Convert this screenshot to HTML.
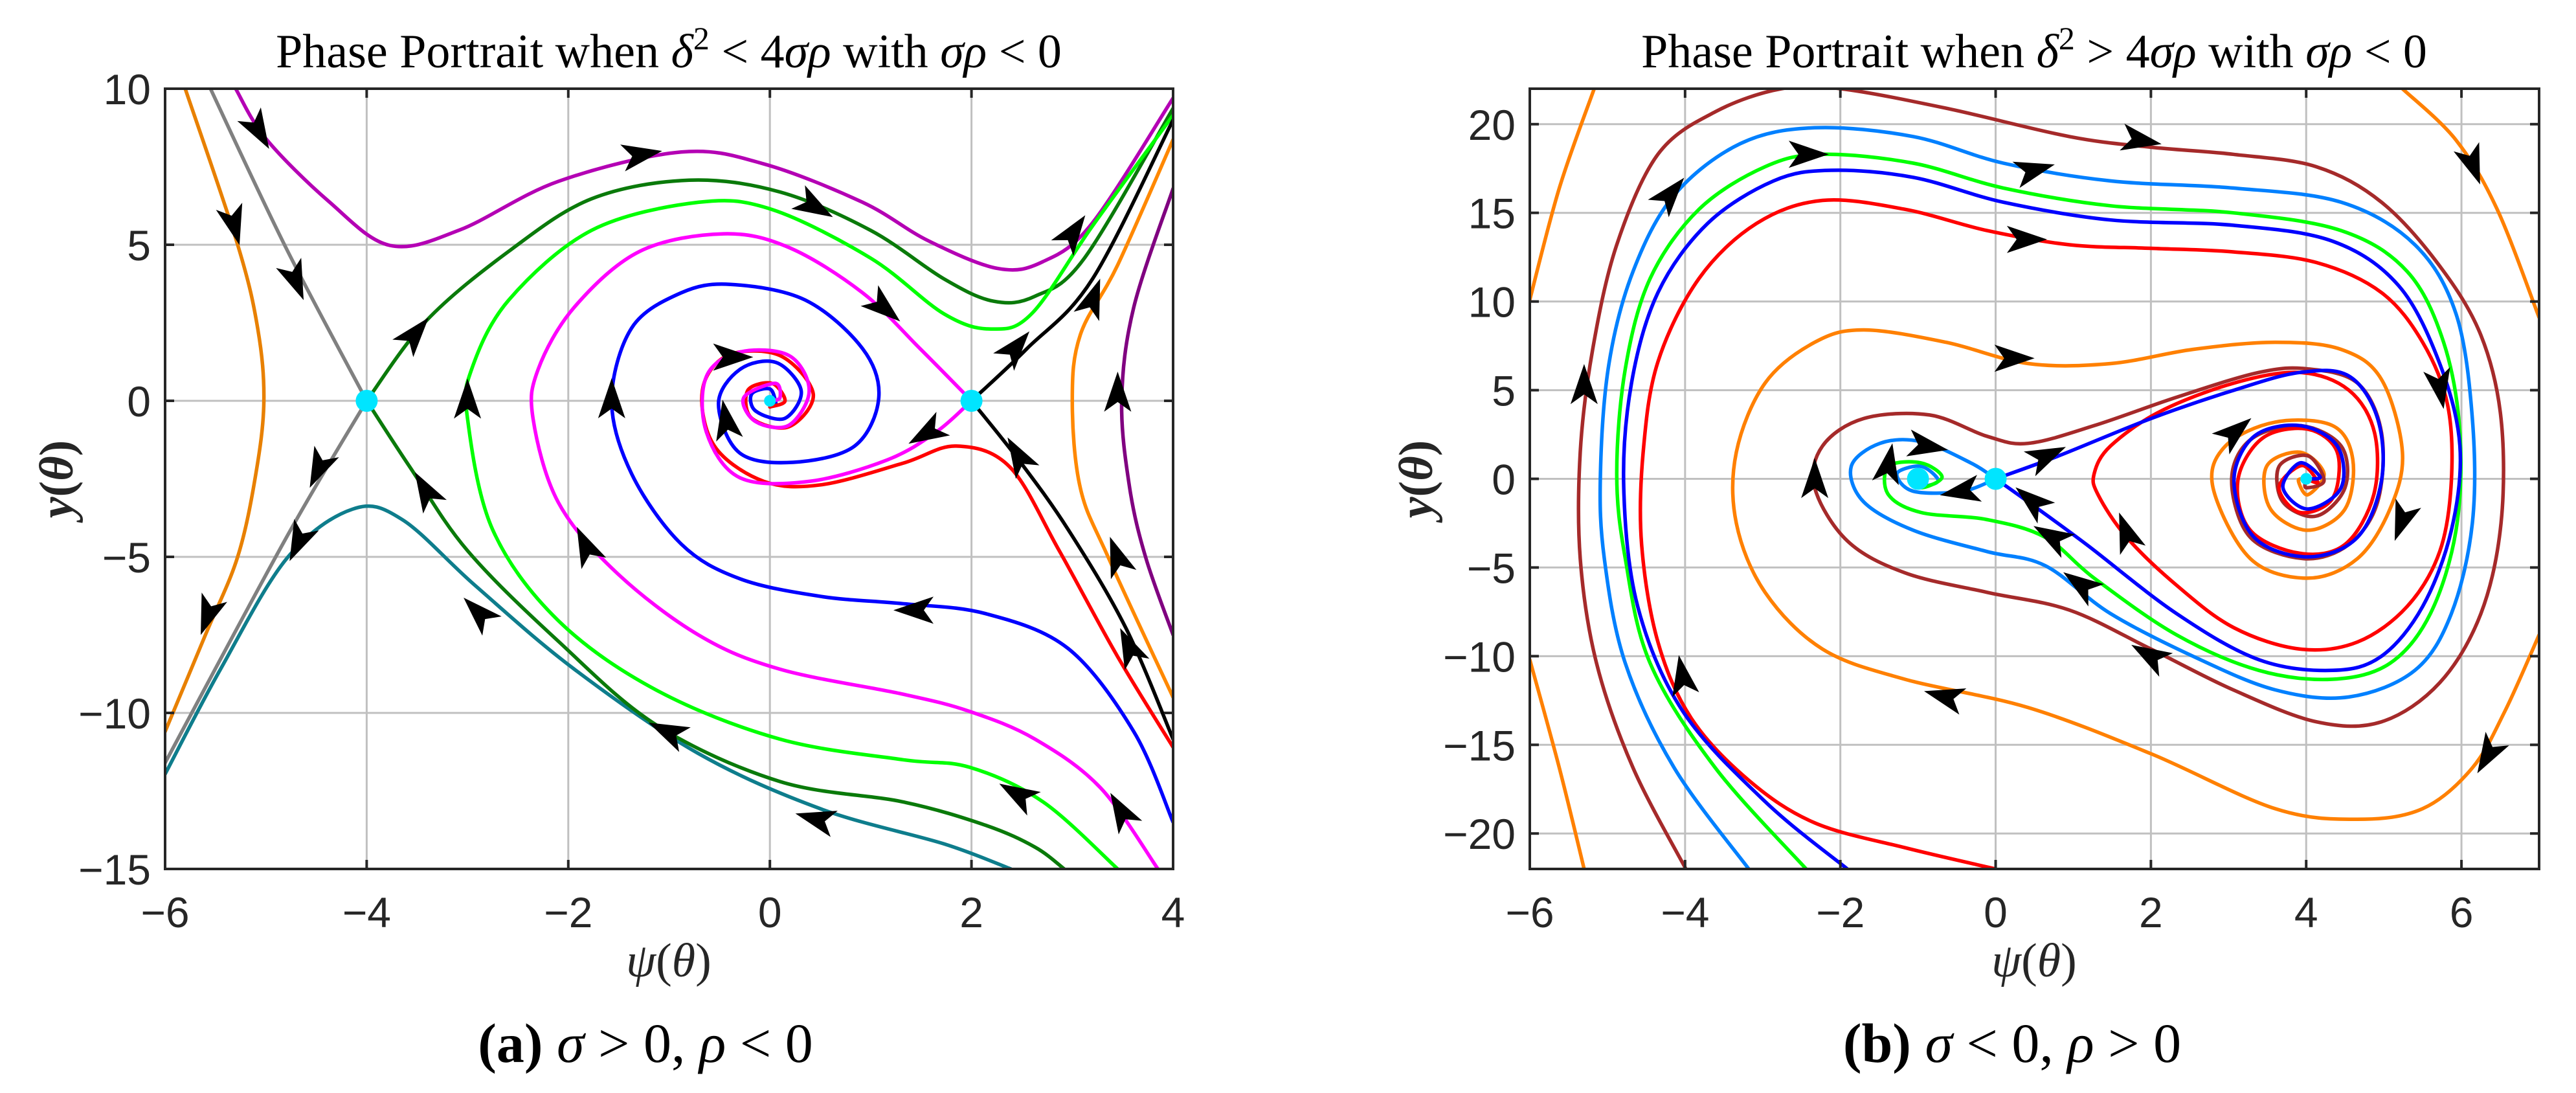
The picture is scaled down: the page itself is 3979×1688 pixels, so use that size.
<!DOCTYPE html>
<html><head><meta charset="utf-8">
<style>
html,body{margin:0;padding:0;background:#fff;}
svg{display:block;}
.tick{font-family:"Liberation Sans",sans-serif;font-size:66px;fill:#262626;}
.ttl{font-family:"Liberation Serif",serif;font-size:74px;fill:#000;}
.lbl{font-family:"Liberation Serif",serif;font-size:74px;fill:#262626;}
.cap{font-family:"Liberation Serif",serif;font-size:86px;fill:#000;}
</style></head>
<body>
<svg id="fig" width="3979" height="1688" viewBox="0 0 3979 1688" xmlns="http://www.w3.org/2000/svg">
<defs>
<clipPath id="clipA"><rect x="255" y="137" width="1557" height="1205"/></clipPath>
<clipPath id="clipB"><rect x="2363" y="137" width="1559" height="1205"/></clipPath>
</defs>
<g id="plotA"></g>
<g id="plotB"></g>
<text class="ttl" x="1033" y="104" text-anchor="middle">Phase Portrait when <tspan font-style="italic">δ</tspan><tspan dy="-28" font-size="50">2</tspan><tspan dy="28"> &lt; 4</tspan><tspan font-style="italic">σρ</tspan> with <tspan font-style="italic">σρ</tspan> &lt; 0</text>
<text class="ttl" x="3142" y="104" text-anchor="middle">Phase Portrait when <tspan font-style="italic">δ</tspan><tspan dy="-28" font-size="50">2</tspan><tspan dy="28"> &gt; 4</tspan><tspan font-style="italic">σρ</tspan> with <tspan font-style="italic">σρ</tspan> &lt; 0</text>
<text class="lbl" x="1033" y="1508" text-anchor="middle"><tspan font-style="italic">ψ</tspan>(<tspan font-style="italic">θ</tspan>)</text>
<text class="lbl" x="3142" y="1508" text-anchor="middle"><tspan font-style="italic">ψ</tspan>(<tspan font-style="italic">θ</tspan>)</text>
<text class="lbl" transform="translate(112,740) rotate(-90)" text-anchor="middle" font-weight="bold"><tspan font-style="italic">y</tspan>(<tspan font-style="italic">θ</tspan>)</text>
<text class="lbl" transform="translate(2212,740) rotate(-90)" text-anchor="middle" font-weight="bold"><tspan font-style="italic">y</tspan>(<tspan font-style="italic">θ</tspan>)</text>
<text class="cap" x="997" y="1640" text-anchor="middle"><tspan font-weight="bold">(a)</tspan> <tspan font-style="italic">σ</tspan> &gt; 0, <tspan font-style="italic">ρ</tspan> &lt; 0</text>
<text class="cap" x="3108" y="1640" text-anchor="middle"><tspan font-weight="bold">(b)</tspan> <tspan font-style="italic">σ</tspan> &lt; 0, <tspan font-style="italic">ρ</tspan> &gt; 0</text>
</svg>
<script>
// ===== Panel (a) data =====
const aXTicks = [-6,-4,-2,0,2,4];
const aYTicks = [10,5,0,-5,-10,-15];
const aEquilX = [-4,2,0];
const aEquilY = [0,0,0];
const aOrangeL_x = [-5.8,-5.28,-5.08,-5.02,-5.1,-5.28,-5.6,-6];
const aOrangeL_y = [10,5.0,2.3,0,-2.35,-5.0,-7.5,-10.6];
const aGrayUp_x = [-5.55,-4.8,-4];
const aGrayUp_y = [10,4.9,0];
const aGrayDn_x = [-4,-4.8,-6];
const aGrayDn_y = [0,-4.4,-11.6];
const aPurple_x = [-5.3,-5.0,-4.38,-3.77,-3.08,-2.1,-0.88,-0.06,0.92,1.57,2.26,2.71,3.2,4];
const aPurple_y = [10,8.4,6.4,4.98,5.47,7.03,7.97,7.59,6.36,5.13,4.24,4.46,5.7,9.7];
const aDGreenUp_x = [-4,-3.41,-2.59,-1.77,-0.8,0.1,1.0,1.73,2.22,2.63,3.12,4];
const aDGreenUp_y = [0,2.56,4.79,6.47,7.07,6.69,5.46,3.9,3.19,3.35,4.57,9.37];
const aDGreenDn_x = [-4,-3.57,-3.0,-2.1,-1.12,0.1,1.32,2.14,2.63,2.92];
const aDGreenDn_y = [0,-2.13,-4.8,-7.7,-10.4,-12.2,-12.85,-13.6,-14.3,-15];
const aGreen_x = [4,3.2,2.6,2.2,1.73,1.0,0.02,-0.71,-1.77,-2.59,-2.96,-3.0,-2.75,-2.1,-1.12,0.1,1.32,1.98,2.71,3.45];
const aGreen_y = [9.15,5.6,2.8,2.3,2.78,4.57,6.13,6.36,5.46,3.23,1.0,-0.56,-4.13,-7.04,-9.28,-10.84,-11.5,-11.74,-12.85,-15];
const aMagenta_x = [2,1.49,0.92,0.19,-0.46,-1.29,-1.94,-2.3,-2.35,-2.1,-1.53,-0.71,0.1,1.32,1.98,2.63,3.28,3.85];
const aMagenta_y = [0,1.67,3.46,4.91,5.35,4.79,3.0,1.0,-0.56,-3.25,-5.48,-7.5,-8.6,-9.4,-9.95,-10.84,-12.4,-15];
const aMagSpiral_x = [2,1.65,1.16,0.39,-0.3,-0.63,-0.63,-0.3,0.19,0.39,0.19,-0.14,-0.26,0.05,0.1,0];
const aMagSpiral_y = [0,-1.0,-1.9,-2.58,-2.46,-1.0,0.78,1.56,1.45,0.33,-0.78,-0.67,0.1,0.56,0.1,0];
const aRed_x = [4,3.45,2.87,2.38,1.85,1.32,0.51,-0.06,-0.55,-0.67,-0.42,0.1,0.43,0.19,-0.18,-0.22,0.02,0.15,0];
const aRed_y = [-11.1,-8.2,-4.8,-2.12,-1.45,-2.0,-2.69,-2.58,-1.45,0.33,1.45,1.45,0.22,-0.83,-0.56,0.33,0.56,0,-0.2];
const aBlue_x = [4,3.61,2.96,2.14,1.32,0.51,-0.3,-0.88,-1.37,-1.57,-1.37,-0.88,-0.39,0.35,0.92,1.08,0.84,0.23,-0.3,-0.51,-0.3,0.06,0.31,0.15,-0.14,-0.18,0,0.06];
const aBlue_y = [-13.5,-10.6,-7.94,-6.82,-6.5,-6.27,-5.7,-4.59,-2.35,0,2.34,3.46,3.73,3.23,1.67,0.1,-1.45,-1.97,-1.67,-0.1,1.0,1.23,0.33,-0.56,-0.33,0.22,0.38,-0.07];
const aBlackUp_x = [2,2.55,3.2,4];
const aBlackUp_y = [0,1.67,3.9,9.0];
const aBlackDn_x = [2,2.47,2.96,3.53,4];
const aBlackDn_y = [0,-1.9,-4.13,-7.27,-10.84];
const aOrangeR_x = [4,3.45,3.08,3.0,3.08,3.36,4];
const aOrangeR_y = [8.37,4.35,2.12,0,-2.8,-5.04,-9.5];
const aPurpleR_x = [4,3.61,3.49,3.57,3.73,4];
const aPurpleR_y = [6.8,3.0,0,-2.8,-5.04,-7.5];
const aTeal_x = [-6,-5.45,-4.79,-4.14,-3.65,-2.92,-1.94,-0.71,0.51,1.73,2.39];
const aTeal_y = [-11.96,-8.6,-5.04,-3.47,-3.8,-5.93,-8.6,-11.3,-13.08,-14.2,-15];
const aArrowX = [-5.08,-5.32,-4.71,-3.53,-4.47,-3.41,-4.67,-5.57,-2.88,-1.29,0.43,1.12,-0.39,-3.0,-1.57,-0.43,1.57,2.43,2.47,3.0,3.2,3.45,3.45,3.57,1.45,-1.82,-1.0,2.47,3.49,0.47];
const aArrowY = [8.7,5.69,3.9,2.11,-2.13,-2.91,-4.48,-6.82,-6.82,7.88,6.25,3.01,1.40,-0.01,0,-0.68,-1.01,1.67,-1.8,5.35,3.23,0.21,-5.04,-7.94,-6.71,-4.70,-10.62,-12.63,-13.19,-13.41];
const aArrowAng = [60,75,68,-50,115,-120,115,110,-135,-10,30,40,0,-90,-90,-100,150,-50,-120,-55,-70,-90,-110,-115,180,-115,-155,-150,-120,-165];

// ===== Panel (b) data =====
const bXTicks = [-6,-4,-2,0,2,4,6];
const bYTicks = [20,15,10,5,0,-5,-10,-15,-20];
const bEquilX = [0,-1,4];
const bEquilY = [0,0,0];
const bOrTL_x = [-6,-5.62,-5.17];
const bOrTL_y = [10.1,16.4,22];
const bOrBL_x = [-6,-5.62,-5.3];
const bOrBL_y = [-10.2,-16.3,-22];
const bOrTR_x = [5.24,5.93,6.46,7];
const bOrTR_y = [22,19.1,15.2,9.1];
const bOrange_x = [7,6.56,6.14,5.5,4.66,3.6,2.0,0.42,-1.17,-2.23,-2.97,-3.34,-3.34,-2.97,-2.33,-1.7,-0.64,0.42,1.48,2.54,3.6,4.45,4.97,5.24,5.08,4.66,4.02,3.28,2.8,2.96,3.6,4.34,4.6,4.5,4.02,3.54,3.49,3.92,4.23,4.02,3.9,4];
const bOrange_y = [-8.8,-13.1,-16.3,-18.6,-19.2,-18.6,-15.5,-12.9,-11.3,-9.6,-6.4,-2.5,1.5,5.4,7.7,8.4,7.7,6.5,6.5,7.3,7.7,7.3,5.6,1.5,-1.7,-4.5,-5.6,-4.5,-0.5,1.85,3.2,3.0,1.1,-1.7,-2.9,-1.7,0.7,1.5,0.3,-0.9,-0.1,0];
const bBrown_x = [-3.99,-4.67,-5.14,-5.35,-5.35,-5.19,-4.88,-4.35,-3.61,-2.76,-2.0,-0.64,0.95,2.0,3.06,4.13,4.97,5.72,6.25,6.51,6.51,6.25,5.72,4.97,4.13,3.06,2.0,0.95,-0.11,-1.17,-1.91,-2.33,-2.23,-1.7,-0.85,-0.11,0.42,1.27,2.33,3.39,4.02,4.66,4.97,4.92,4.55,3.97,3.28,3.04,3.28,3.92,4.45,4.5,4.13,3.7,3.65,4.02,4.23,4,4];
const bBrown_y = [-22,-16.3,-10.4,-4.5,1.5,7.3,13.2,18.3,20.7,22,22,20.9,19.3,18.7,18.3,17.6,15.6,12.0,8.1,3.4,-2.5,-7.6,-11.5,-13.7,-13.7,-11.9,-9.6,-7.4,-6.4,-5.3,-3.5,-0.5,1.85,3.4,3.6,2.4,2.0,3.0,4.6,6.0,6.2,5.4,2.6,-1.3,-3.7,-4.5,-3.3,-0.1,2.2,3.0,1.85,-0.5,-2.1,-1.3,0.7,1.3,-0.1,-0.5,0];
const bLBlue_x = [-3.18,-4.14,-4.77,-5.04,-5.09,-4.98,-4.67,-4.14,-3.29,-2.33,-1.06,0.1,1.48,3.06,4.45,5.4,5.93,6.14,6.14,5.87,5.4,4.55,3.6,2.54,1.48,0.64,-0.11,-1.06,-1.7,-1.86,-1.49,-0.96,-0.32,0];
const bLBlue_y = [-22,-16.3,-10.4,-4.5,0.3,6.5,11.7,16.0,18.9,19.8,19.3,17.8,16.8,16.4,15.6,13.2,9.3,3.4,-2.5,-7.6,-10.8,-12.3,-11.9,-10.0,-7.6,-4.9,-4.1,-2.9,-1.3,0.7,2.0,2.1,0.9,0];
const bLBSpiral_x = [0,-0.43,-1.06,-1.27,-0.96,-0.74,-0.96,-1.05,-1];
const bLBSpiral_y = [0,-0.7,-0.7,0.3,0.7,-0.1,-0.4,0.1,0];
const bGreen_x = [-2.44,-3.61,-4.45,-4.77,-4.88,-4.77,-4.45,-3.82,-2.97,-2.23,-1.06,0.1,1.48,3.06,4.45,5.3,5.77,5.98,5.93,5.6,5.08,4.34,3.39,2.33,1.27,0.64,-0.11,-0.96,-1.38,-1.38,-0.96,-0.69,-0.96,-1.11,-1];
const bGreen_y = [-22,-16.3,-10.4,-4.5,0.3,6.2,11.3,15.2,17.6,18.3,17.8,16.4,15.4,15.0,14.0,11.7,7.7,2.6,-2.9,-7.6,-10.4,-11.3,-10.8,-8.8,-5.6,-3.3,-2.3,-1.9,-0.9,0.7,0.9,0.1,-0.5,0.1,0];
const bBlue_x = [-1.91,-2.97,-4.03,-4.61,-4.79,-4.69,-4.35,-3.71,-2.86,-2.12,-1.06,0.1,1.48,3.06,4.34,5.19,5.72,5.98,5.87,5.5,4.97,4.34,3.39,2.33,1.17,0.42,0];
const bBlue_y = [-22,-18.2,-13.1,-7.2,-0.5,5.4,10.5,14.4,16.8,17.4,17.0,15.6,14.6,14.3,13.4,10.9,6.5,1.85,-2.9,-7.2,-10.0,-10.8,-10.2,-7.6,-3.7,-1.3,0];
const bBlueU_x = [0,0.79,2.0,3.07,3.92,4.55,4.92,4.97,4.66,4.02,3.33,3.07,3.33,3.92,4.4,4.45,4.02,3.7,3.92,4.18,4];
const bBlueU_y = [0,1.26,3.4,5.0,6.0,5.8,3.4,-0.1,-3.3,-4.4,-3.3,-0.1,2.4,3.0,1.85,-0.5,-1.7,-0.5,0.9,0.1,0];
const bRed_x = [0,-1.17,-2.33,-3.18,-3.92,-4.35,-4.56,-4.54,-4.35,-3.82,-3.08,-2.23,-1.17,-0.11,0.95,2.0,3.06,4.13,4.97,5.5,5.82,5.87,5.72,5.3,4.66,3.92,3.07,2.33,1.69,1.32,1.27,1.48,2.12,3.07,3.92,4.55,4.88,4.87,4.5,3.92,3.28,3.12,3.44,4.02,4.4,4.34,3.92,3.65,3.94,4.15,4];
const bRed_y = [-22,-20.8,-19.4,-17.0,-13.5,-9.2,-3.7,1.5,6.6,11.3,14.4,15.7,15.2,14.0,13.2,13.0,12.8,12.2,10.5,7.7,4.2,-0.1,-4.1,-7.2,-9.2,-9.6,-8.4,-6.0,-3.3,-0.9,0.3,1.85,3.8,5.4,6.0,5.0,2.6,-0.9,-3.7,-4.2,-2.9,-0.1,2.3,2.8,1.5,-1.1,-1.9,-0.5,0.75,-0.2,0];
const bArrowX = [1.85,0.48,-2.44,-4.2,0.37,0.21,-5.3,5.72,6.14,6.35,-0.64,2.0,-4.03,-2.33,-0.9,-1.38,0.64,-0.43,0.48,0.74,1.11,1.69,3.07,5.24];
const bArrowY = [19.1,17.4,18.3,16.0,13.5,6.8,5.2,5.2,17.8,-15.5,-12.3,-10.0,-11.2,-0.1,1.85,0.75,1.26,-0.7,-1.3,-3.3,-6.0,-3.1,2.6,-2.3];
const bArrowAng = [10,-15,0,-50,0,0,-90,80,70,120,-165,-150,-100,-90,10,-80,-25,170,-140,-150,-145,-110,-40,110];

const NS = "http://www.w3.org/2000/svg";
function mk(tag, attrs, parent){ const e=document.createElementNS(NS,tag); for(const k in attrs) e.setAttribute(k,attrs[k]); parent.appendChild(e); return e; }

function axisFns(box, xmin, xmax, ymin, ymax){
  return {
    sx: v => box.x0 + (v - xmin) / (xmax - xmin) * (box.x1 - box.x0),
    sy: v => box.y1 - (v - ymin) / (ymax - ymin) * (box.y1 - box.y0)
  };
}

function smoothPath(px, py){
  if(px.length<2) return "";
  let d = "M"+px[0].toFixed(1)+","+py[0].toFixed(1);
  const n = px.length;
  for(let i=0;i<n-1;i++){
    const p0x = px[Math.max(0,i-1)], p0y = py[Math.max(0,i-1)];
    const p1x = px[i], p1y = py[i], p2x = px[i+1], p2y = py[i+1];
    const p3x = px[Math.min(n-1,i+2)], p3y = py[Math.min(n-1,i+2)];
    const c1x = p1x + (p2x-p0x)/6, c1y = p1y + (p2y-p0y)/6;
    const c2x = p2x - (p3x-p1x)/6, c2y = p2y - (p3y-p1y)/6;
    d += " C"+c1x.toFixed(1)+","+c1y.toFixed(1)+" "+c2x.toFixed(1)+","+c2y.toFixed(1)+" "+p2x.toFixed(1)+","+p2y.toFixed(1);
  }
  return d;
}

function drawPanel(g, box, xmin, xmax, ymin, ymax, xt, yt, clipId, curves, eqX, eqY, arX, arY, arA, tag){
  const f = axisFns(box, xmin, xmax, ymin, ymax);
  const grid = mk("g",{},g);
  
  
  xt.forEach(v=>{ const x=f.sx(v); mk("line",{x1:x,x2:x,y1:box.y0,y2:box.y1,stroke:"#c0c0c0","stroke-width":3},grid); });
  yt.forEach(v=>{ const y=f.sy(v); mk("line",{x1:box.x0,x2:box.x1,y1:y,y2:y,stroke:"#c0c0c0","stroke-width":3},grid); });
  const cg = mk("g",{"clip-path":"url(#"+clipId+")"},g);
  curves.forEach(c=>{
    const p = mk("path",{d:smoothPath(c.x.map(f.sx), c.y.map(f.sy)),fill:"none",stroke:c.color,"stroke-width":5.5,"stroke-linejoin":"round","stroke-linecap":"round"},cg);
    
    
  });
  eqX.forEach((v,i)=>{
    const r = i<2 ? 17 : 9;
    const c = mk("circle",{cx:f.sx(v),cy:f.sy(eqY[i]),r:r,fill:"#00e5ff"},cg);
    
    
  });
  arX.forEach((v,i)=>{
    const a = mk("path",{d:"M35,0 L-27,-21 L-12,0 L-27,21 Z",fill:"#000",transform:"translate("+f.sx(v).toFixed(1)+","+f.sy(arY[i]).toFixed(1)+") rotate("+arA[i]+")"},cg);
    
    
  });
  const ax = mk("rect",{x:box.x0,y:box.y0,width:box.x1-box.x0,height:box.y1-box.y0,fill:"none",stroke:"#262626","stroke-width":4},g);
  
  
  xt.forEach(v=>{
    const x=f.sx(v);
    mk("line",{x1:x,x2:x,y1:box.y1,y2:box.y1-14,stroke:"#262626","stroke-width":4},g);
    mk("line",{x1:x,x2:x,y1:box.y0,y2:box.y0+14,stroke:"#262626","stroke-width":4},g);
    const t = mk("text",{x:x,y:box.y1+90,"text-anchor":"middle",class:"tick"},g);
    t.textContent = (v<0?"\u2212":"")+Math.abs(v);
    
    
  });
  yt.forEach(v=>{
    const y=f.sy(v);
    mk("line",{x1:box.x0,x2:box.x0+14,y1:y,y2:y,stroke:"#262626","stroke-width":4},g);
    mk("line",{x1:box.x1,x2:box.x1-14,y1:y,y2:y,stroke:"#262626","stroke-width":4},g);
    const t = mk("text",{x:box.x0-22,y:y+24,"text-anchor":"end",class:"tick"},g);
    t.textContent = (v<0?"\u2212":"")+Math.abs(v);
    
    
  });
}

const curvesA = [
  {name:"orange-left-trajectory",color:"#e88000",x:aOrangeL_x,y:aOrangeL_y},
  {name:"gray-stable-manifold",color:"#808080",x:aGrayUp_x,y:aGrayUp_y},
  {name:"gray-unstable-manifold",color:"#808080",x:aGrayDn_x,y:aGrayDn_y},
  {name:"teal-trajectory",color:"#0e7d8c",x:aTeal_x,y:aTeal_y},
  {name:"purple-top-trajectory",color:"#b400b4",x:aPurple_x,y:aPurple_y},
  {name:"darkgreen-upper-manifold",color:"#0a7a0a",x:aDGreenUp_x,y:aDGreenUp_y},
  {name:"darkgreen-lower-manifold",color:"#0a7a0a",x:aDGreenDn_x,y:aDGreenDn_y},
  {name:"green-trajectory",color:"#00ff00",x:aGreen_x,y:aGreen_y},
  {name:"blue-trajectory",color:"#0000ff",x:aBlue_x,y:aBlue_y},
  {name:"red-trajectory",color:"#ff0000",x:aRed_x,y:aRed_y},
  {name:"magenta-trajectory",color:"#ff00ff",x:aMagenta_x,y:aMagenta_y},
  {name:"magenta-spiral",color:"#ff00ff",x:aMagSpiral_x,y:aMagSpiral_y},
  {name:"black-upper-manifold",color:"#000000",x:aBlackUp_x,y:aBlackUp_y},
  {name:"black-lower-manifold",color:"#000000",x:aBlackDn_x,y:aBlackDn_y},
  {name:"orange-right-trajectory",color:"#ff8800",x:aOrangeR_x,y:aOrangeR_y},
  {name:"purple-right-trajectory",color:"#800080",x:aPurpleR_x,y:aPurpleR_y}
];
const curvesB = [
  {name:"orange-topleft-trajectory",color:"#ff8000",x:bOrTL_x,y:bOrTL_y},
  {name:"orange-bottomleft-trajectory",color:"#ff8000",x:bOrBL_x,y:bOrBL_y},
  {name:"orange-topright-trajectory",color:"#ff8000",x:bOrTR_x,y:bOrTR_y},
  {name:"orange-trajectory",color:"#ff8000",x:bOrange_x,y:bOrange_y},
  {name:"brown-trajectory",color:"#a52a2a",x:bBrown_x,y:bBrown_y},
  {name:"lightblue-trajectory",color:"#0080ff",x:bLBlue_x,y:bLBlue_y},
  {name:"lightblue-spiral",color:"#0080ff",x:bLBSpiral_x,y:bLBSpiral_y},
  {name:"green-trajectory",color:"#00ff00",x:bGreen_x,y:bGreen_y},
  {name:"red-trajectory",color:"#ff0000",x:bRed_x,y:bRed_y},
  {name:"blue-stable-manifold",color:"#0000ff",x:bBlue_x,y:bBlue_y},
  {name:"blue-unstable-manifold",color:"#0000ff",x:bBlueU_x,y:bBlueU_y}
];

drawPanel(document.getElementById("plotA"), {x0:255,x1:1812,y0:137,y1:1342}, -6, 4, -15, 10, aXTicks, aYTicks, "clipA", curvesA, aEquilX, aEquilY, aArrowX, aArrowY, aArrowAng, "a");
drawPanel(document.getElementById("plotB"), {x0:2363,x1:3922,y0:137,y1:1342}, -6, 7, -22, 22, bXTicks, bYTicks, "clipB", curvesB, bEquilX, bEquilY, bArrowX, bArrowY, bArrowAng, "b");
</script>
</body></html>
